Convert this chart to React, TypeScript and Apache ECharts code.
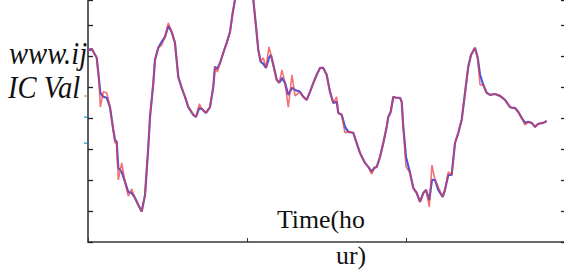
import React, { useEffect, useRef } from "react";
import * as echarts from "echarts";

// Time (hours)
const timeHours = [
  0.0, 0.56, 1.31, 1.66, 1.85, 2.3, 2.82, 3.31, 3.81, 4.07,
  4.32, 4.56, 5.08, 5.57, 6.07, 6.58, 7.08, 7.58, 8.09, 8.59,
  9.08, 9.34, 9.84, 10.09, 10.59, 11.1, 11.6, 12.1, 12.61, 13.1,
  13.6, 14.11, 14.61, 15.11, 15.86, 16.27, 16.76, 17.13, 17.77, 18.38,
  18.87, 19.13, 19.48, 19.88, 20.38, 20.89, 21.39, 21.8, 22.14, 22.74,
  23.5, 24.25, 24.9, 25.31, 25.65, 26.01, 26.41, 26.81, 27.26, 27.56,
  27.91, 28.42, 28.81, 29.22, 29.67, 30.17, 30.73, 31.18, 31.93, 32.43,
  32.94, 33.44, 33.94, 34.45, 34.95, 35.44, 35.95, 36.45, 36.95, 37.46,
  37.7, 38.21, 38.71, 39.21, 39.96, 40.47, 40.97, 41.72, 42.22, 42.73,
  43.12, 43.49, 43.98, 44.48, 44.99, 45.23, 45.59, 45.99, 46.39, 46.99,
  47.25, 47.49, 47.9, 48.5, 49.0, 49.51, 50.01, 50.51, 50.91, 51.41,
  51.81, 52.27, 52.76, 53.43, 53.77, 54.27, 54.78, 55.28, 55.78, 56.29,
  56.79, 57.28, 57.69, 58.29, 58.7, 59.05, 59.54, 60.05, 60.55, 61.3,
  62.06, 62.81, 63.57, 63.91, 64.32, 64.82, 65.33, 65.82, 66.32, 66.83,
  67.33, 67.83, 68.58, 69.09,
];

// IC value, smooth (blue) series
const icActual = [
  6.19, 6.23, 5.94, 5.23, 4.81, 4.68, 4.65, 4.35, 3.61, 3.29,
  3.23, 2.39, 2.26, 1.94, 1.61, 1.58, 1.42, 1.19, 0.98, 1.52,
  3.06, 4.03, 5.13, 5.87, 6.26, 6.45, 6.61, 6.97, 6.77, 6.42,
  5.32, 4.97, 4.68, 4.35, 4.1, 4.03, 4.32, 4.29, 4.16, 4.35,
  5.0, 5.65, 5.58, 5.77, 6.1, 6.42, 6.77, 7.39, 7.81, 8.39,
  8.71, 8.29, 7.81, 6.94, 6.19, 5.81, 5.74, 5.61, 5.94, 6.03,
  5.71, 5.23, 5.13, 5.29, 5.13, 4.74, 4.97, 4.9, 4.84, 4.68,
  4.58, 4.84, 5.13, 5.39, 5.61, 5.61, 5.39, 4.84, 4.48, 4.52,
  4.16, 4.1, 3.71, 3.55, 3.52, 3.19, 2.87, 2.55, 2.42, 2.26,
  2.39, 2.42, 2.74, 3.19, 3.71, 4.03, 4.19, 4.68, 4.65, 4.65,
  4.52, 3.71, 2.74, 2.23, 1.74, 1.58, 1.29, 1.58, 1.68, 1.35,
  2.0, 2.0, 1.68, 1.45, 1.68, 2.16, 2.16, 3.19, 3.52, 3.94,
  4.81, 5.65, 6.03, 6.26, 5.94, 5.39, 5.06, 4.81, 4.74, 4.77,
  4.71, 4.58, 4.35, 4.32, 4.32, 4.19, 4.0, 3.84, 3.87, 3.84,
  3.71, 3.81, 3.84, 3.9,
];

// IC value, noisy (red) series
const icPredicted = [
  6.19, 6.23, 5.94, 5.23, 4.35, 4.84, 4.81, 4.35, 3.61, 3.19,
  3.23, 2.0, 2.55, 1.94, 1.48, 1.71, 1.42, 1.19, 0.98, 1.52,
  3.06, 4.03, 5.13, 5.87, 6.26, 6.35, 6.61, 7.06, 6.77, 6.42,
  5.32, 4.97, 4.68, 4.35, 4.1, 4.03, 4.45, 4.29, 4.16, 4.35,
  5.0, 5.65, 5.48, 5.77, 6.1, 6.42, 6.77, 7.39, 7.81, 8.39,
  8.71, 8.29, 7.81, 6.94, 6.19, 5.81, 5.94, 5.61, 6.29, 6.03,
  5.71, 5.23, 5.13, 5.55, 5.13, 4.35, 5.39, 4.71, 4.84, 4.68,
  4.58, 4.84, 5.13, 5.39, 5.61, 5.61, 5.39, 4.84, 4.48, 4.68,
  4.16, 4.1, 3.52, 3.55, 3.52, 3.19, 2.87, 2.55, 2.42, 2.19,
  2.39, 2.42, 2.74, 3.19, 3.71, 4.03, 4.19, 4.68, 4.65, 4.65,
  4.52, 3.71, 2.42, 2.23, 1.74, 1.58, 1.29, 1.58, 1.68, 1.13,
  2.48, 2.0, 1.77, 1.45, 1.68, 2.26, 2.16, 3.19, 3.52, 3.94,
  4.81, 5.65, 6.03, 6.26, 5.94, 5.06, 5.06, 4.81, 4.74, 4.77,
  4.71, 4.58, 4.35, 4.32, 4.32, 4.19, 4.0, 3.77, 3.87, 3.84,
  3.71, 3.81, 3.84, 3.9,
];

const yLabelLines = ["www.ij", "IC Val"];
const xLabelLines = ["Time(ho", "ur)"];

export default function App() {
  const ref = useRef<HTMLDivElement>(null);

  useEffect(() => {
    if (!ref.current) return;
    const chart = echarts.init(ref.current, null, { renderer: "svg" });
    const blueData = timeHours.map((t, i) => [t, icActual[i]]);
    const redData = timeHours.map((t, i) => [t, icPredicted[i]]);
    const serifItalic = "italic 28.6px 'Liberation Serif', 'Times New Roman', serif";
    const serif = "25.8px 'Liberation Serif', 'Times New Roman', serif";

    chart.setOption({
      animation: false,
      backgroundColor: "#ffffff",
      grid: {
        left: 88,
        top: 0,
        width: 478,
        height: 242,
        containLabel: false,
        outerBoundsMode: "none",
      },
      xAxis: {
        type: "value",
        min: 0,
        max: 72,
        interval: 24,
        axisLine: { show: true, lineStyle: { color: "#3a3a3a", width: 1.6 } },
        axisTick: { show: true, inside: true, length: 4, lineStyle: { color: "#333", width: 1 } },
        axisLabel: { show: false },
        splitLine: { show: false },
      },
      yAxis: [
        {
          type: "value",
          min: 0,
          max: 7.8,
          interval: 1,
          position: "left",
          axisLine: { show: true, lineStyle: { color: "#2a2a2a", width: 1.5 } },
          axisTick: { show: true, inside: true, length: 5, lineStyle: { color: "#222", width: 1.3 } },
          axisLabel: { show: false },
          splitLine: { show: false },
        },
        {
          type: "value",
          min: 0,
          max: 7.8,
          interval: 1,
          position: "right",
          axisLine: { show: false },
          axisTick: { show: true, inside: true, length: 5, lineStyle: { color: "#222", width: 1.3 } },
          axisLabel: { show: false },
          splitLine: { show: false },
        },
      ],
      series: [
        {
          type: "line",
          data: blueData,
          showSymbol: false,
          symbol: "none",
          clip: true,
          lineStyle: { color: "#4455e6", width: 2.2 },
          z: 2,
        },
        {
          type: "line",
          data: redData,
          showSymbol: false,
          symbol: "none",
          clip: true,
          lineStyle: { color: "#ee3b3b", width: 1.6, opacity: 0.72 },
          z: 3,
        },
      ],
      graphic: [
        {
          type: "text",
          x: 9,
          y: 53.4,
          scaleY: 1.13,
          z: 10,
          style: { text: yLabelLines[0], font: serifItalic, fill: "#111", textAlign: "left", textVerticalAlign: "middle" },
        },
        {
          type: "text",
          x: 8,
          y: 87.9,
          scaleY: 1.13,
          z: 10,
          style: { text: yLabelLines[1], font: serifItalic, fill: "#111", textAlign: "left", textVerticalAlign: "middle" },
        },
        {
          type: "text",
          x: 277,
          y: 219.0,
          z: 10,
          style: { text: xLabelLines[0], font: serif, fill: "#111", textAlign: "left", textVerticalAlign: "middle" },
        },
        {
          type: "text",
          x: 336,
          y: 255.3,
          z: 10,
          style: { text: xLabelLines[1], font: serif, fill: "#111", textAlign: "left", textVerticalAlign: "middle" },
        },
        { type: "rect", shape: { x: 84.5, y: 95, width: 2, height: 2 }, style: { fill: "#e8a040" }, z: 10 },
        { type: "rect", shape: { x: 84, y: 116.5, width: 3, height: 1.5 }, style: { fill: "#3ab0e8" }, z: 10 },
        { type: "rect", shape: { x: 84, y: 142.5, width: 3, height: 1.5 }, style: { fill: "#3ab0e8" }, z: 10 },
      ],
    });

    return () => {
      chart.dispose();
    };
  }, []);

  return (
    <div
      ref={ref}
      style={{ position: "fixed", left: 0, top: 0, width: 564, height: 272, background: "#fff" }}
    />
  );
}
